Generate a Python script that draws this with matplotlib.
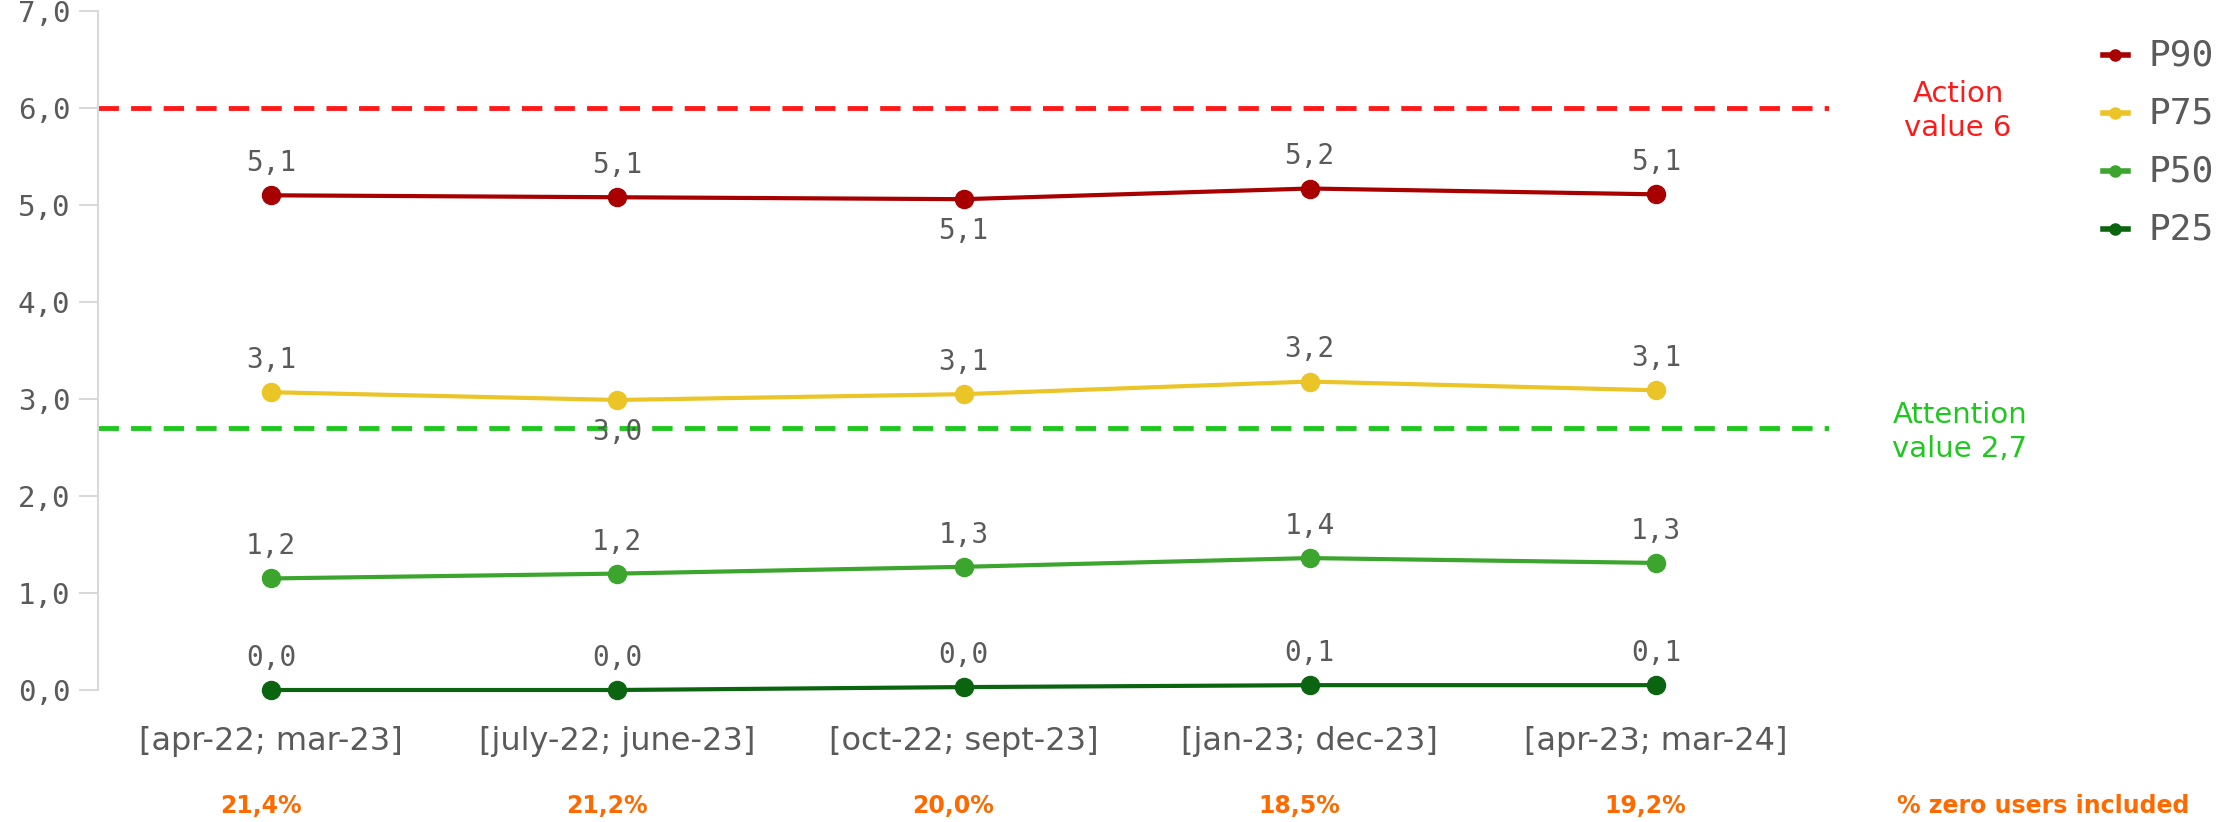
import matplotlib
matplotlib.use('agg')
import matplotlib.pyplot as plt
from matplotlib.lines import Line2D
from matplotlib import transforms

# data
periods = ["[apr-22; mar-23]", "[july-22; june-23]", "[oct-22; sept-23]",
           "[jan-23; dec-23]", "[apr-23; mar-24]"]
p90 = [5.10, 5.08, 5.06, 5.17, 5.11]
p75 = [3.07, 2.99, 3.05, 3.18, 3.09]
p50 = [1.15, 1.20, 1.27, 1.36, 1.31]
p25 = [0.00, 0.00, 0.03, 0.05, 0.05]
p90_labels = ["5,1", "5,1", "5,1", "5,2", "5,1"]
p75_labels = ["3,1", "3,0", "3,1", "3,2", "3,1"]
p50_labels = ["1,2", "1,2", "1,3", "1,4", "1,3"]
p25_labels = ["0,0", "0,0", "0,0", "0,1", "0,1"]
zero_users = ["21,4%", "21,2%", "20,0%", "18,5%", "19,2%"]
action_value = 6.0
attention_value = 2.7

W, H = 2238, 822
grey = "#5a5a5a"
mono = "DejaVu Sans Mono"
orange = "#ff6a00"

fig = plt.figure(figsize=(W/100, H/100), dpi=100)
ax = fig.add_axes([98/W, 1-690/H, 1731/W, 679/H])

x = list(range(len(periods)))
series = [
    ("P90", p90, p90_labels, "#a80000", [1, 1, -1, 1, 1]),
    ("P75", p75, p75_labels, "#ebc428", [1, -1, 1, 1, 1]),
    ("P50", p50, p50_labels, "#3ca52e", [1, 1, 1, 1, 1]),
    ("P25", p25, p25_labels, "#0a6410", [1, 1, 1, 1, 1]),
]

ax.axhline(action_value, color="#ff1a1a", lw=3.5, ls=(0, (4.2, 2.5)), zorder=1)
ax.axhline(attention_value, color="#1ec81e", lw=3.5, ls=(0, (4.2, 2.5)), zorder=1)

for name, vals, labs, col, pos in series:
    ax.plot(x, vals, color=col, lw=3, marker="o", ms=13, zorder=3, clip_on=False)
    for xi, v, lab, p in zip(x, vals, labs, pos):
        ax.annotate(lab, (xi, v), xytext=(0, 13 * p), textcoords="offset points",
                    ha="center", va="bottom" if p > 0 else "top",
                    fontsize=20, color=grey, family=mono, zorder=2)

ax.set_xlim(-0.5, 4.5)
ax.set_ylim(0, 7)
ax.set_yticks(range(8))
ax.set_yticklabels([f"{i},0" for i in range(8)], family=mono, fontsize=21, color=grey)
ax.set_xticks(x)
ax.set_xticklabels(periods, fontsize=23, color=grey)
ax.tick_params(axis="y", length=14, width=1.5, color="#d9d9d9", pad=6)
ax.tick_params(axis="x", length=0, pad=26)
for s in ["top", "right", "bottom"]:
    ax.spines[s].set_visible(False)
ax.spines["left"].set_color("#d9d9d9")
ax.spines["left"].set_linewidth(1.5)

# percentages of zero users under each period
trans = transforms.blended_transform_factory(ax.transData, fig.transFigure)
for xi, txt in zip(x, zero_users):
    ax.text(xi - 0.03, 1-806/H, txt, transform=trans, clip_on=False,
            ha="center", va="center", fontsize=17, fontweight="bold", color=orange)
fig.text(2043/W, 1-806/H, "% zero users included", ha="center", va="center",
         fontsize=17, fontweight="bold", color=orange)

fig.text(1958/W, 1-111/H, "Action\nvalue 6", ha="center", va="center",
         fontsize=21, color="#ff1a1a", linespacing=1.3)
fig.text(1960/W, 1-432/H, "Attention\nvalue 2,7", ha="center", va="center",
         fontsize=21, color="#1ec81e", linespacing=1.3)

# legend drawn by hand on the right
for i, (name, vals, labs, col, pos) in enumerate(series):
    yy = 1 - (55 + 58 * i) / H
    fig.add_artist(Line2D([2103/W, 2128/W], [yy, yy], color=col, lw=4,
                          transform=fig.transFigure))
    fig.add_artist(Line2D([2115/W], [yy], color=col, marker="o", ms=8,
                          transform=fig.transFigure))
    fig.text(2148/W, yy, name, ha="left", va="center", family=mono,
             fontsize=26, color=grey)

fig.savefig("out.png", dpi=100)
